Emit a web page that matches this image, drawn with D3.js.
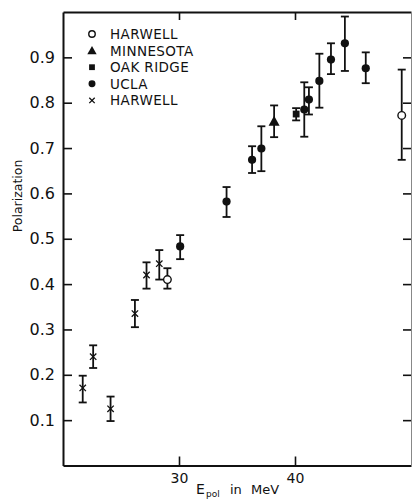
<!DOCTYPE html>
<html>
<head>
<meta charset="utf-8">
<script src="https://cdn.jsdelivr.net/npm/d3@7"></script>
<style>
  body { margin: 0; background: #fff; }
  text { font-family: "DejaVu Sans", sans-serif; fill: #111; }
</style>
</head>
<body>
<div id="chart"></div>
<script>
// [energy MeV, polarization, lower end of bar, upper end of bar]
var harwellCircle = [[29.0, 0.410, 0.390, 0.435], [49.2, 0.772, 0.674, 0.873]];
var minnesota = [[38.2, 0.759, 0.724, 0.794]];
var oakRidge = [[40.1, 0.775, 0.761, 0.788]];
var ucla = [
  [30.1, 0.483, 0.455, 0.508],
  [34.1, 0.582, 0.548, 0.614],
  [36.3, 0.674, 0.645, 0.704],
  [37.1, 0.699, 0.649, 0.748],
  [40.8, 0.785, 0.725, 0.845],
  [41.2, 0.807, 0.774, 0.834],
  [42.1, 0.848, 0.789, 0.908],
  [43.1, 0.895, 0.863, 0.931],
  [44.3, 0.931, 0.870, 0.990],
  [46.1, 0.876, 0.843, 0.911]
];
var harwellCross = [
  [21.7, 0.171, 0.139, 0.198],
  [22.6, 0.240, 0.215, 0.265],
  [24.1, 0.125, 0.098, 0.152],
  [26.2, 0.335, 0.305, 0.365],
  [27.2, 0.420, 0.390, 0.448],
  [28.3, 0.445, 0.410, 0.475]
];

var legendLabels = ["HARWELL", "MINNESOTA", "OAK RIDGE", "UCLA", "HARWELL"];
var legendSymbols = ["open", "triangle", "square", "dot", "cross"];
var xTicks = [30, 40];
var yTicks = [0.1, 0.2, 0.3, 0.4, 0.5, 0.6, 0.7, 0.8, 0.9];

createChart();

function createChart() {
  var width = 412;
  var height = 499;
  var left = 63, right = 411, top = 12, bottom = 465.5;

  var svg = d3.select("#chart").append("svg")
    .attr("width", width)
    .attr("height", height);

  var x = d3.scaleLinear().domain([20, 50]).range([left, right]);
  var y = d3.scaleLinear().domain([0, 1]).range([bottom, top]);

  // axes, ticks pointing inward
  var gl = svg.append("g")
    .attr("transform", "translate(" + left + ",0)")
    .call(d3.axisLeft(y).tickValues(yTicks).tickSize(-9).tickSizeOuter(0)
      .tickPadding(8).tickFormat(d3.format(".1f")));
  gl.selectAll("text").style("font-size", "16px");

  var gb = svg.append("g")
    .attr("transform", "translate(0," + bottom + ")")
    .call(d3.axisBottom(x).tickValues(xTicks).tickSize(-9).tickSizeOuter(0)
      .tickPadding(8));
  gb.selectAll("text").style("font-size", "14px");

  svg.append("g")
    .attr("transform", "translate(0," + top + ")")
    .call(d3.axisTop(x).tickValues(xTicks).tickSize(-8).tickSizeOuter(0).tickFormat(""));

  var gr = svg.append("g")
    .attr("transform", "translate(" + right + ",0)")
    .call(d3.axisRight(y).tickValues(yTicks).tickSize(-8).tickSizeOuter(0).tickFormat(""));
  gr.select(".domain").attr("stroke-width", 1).attr("stroke", "#888");

  svg.selectAll(".domain").filter(function() { return this.parentNode !== gr.node(); })
    .attr("stroke-width", 2).attr("stroke", "#111");
  svg.selectAll(".tick line").attr("stroke-width", 1.6).attr("stroke", "#111");

  // axis titles
  svg.append("text")
    .attr("transform", "translate(22,196) rotate(-90)")
    .attr("text-anchor", "middle")
    .style("font-size", "12.5px")
    .text("Polarization");

  var xt = svg.append("text")
    .attr("y", 494)
    .style("font-size", "13px");
  xt.append("tspan").attr("x", 196).style("font-size", "14px").text("E");
  xt.append("tspan").attr("x", 206).attr("dy", 2.5).style("font-size", "9px").text("pol");
  xt.append("tspan").attr("x", 230).attr("dy", -2.5).text("in");
  xt.append("tspan").attr("x", 251).text("MeV");

  var all = [harwellCircle, minnesota, oakRidge, ucla, harwellCross];
  var kinds = ["open", "triangle", "square", "dot", "cross"];

  // error bars
  all.forEach(function(series) {
    var g = svg.append("g").attr("stroke", "#111").attr("stroke-width", 1.8);
    series.forEach(function(d) {
      var cx = x(d[0]);
      g.append("line").attr("x1", cx).attr("x2", cx).attr("y1", y(d[2])).attr("y2", y(d[3]));
      g.append("line").attr("x1", cx - 4).attr("x2", cx + 4).attr("y1", y(d[2])).attr("y2", y(d[2]));
      g.append("line").attr("x1", cx - 4).attr("x2", cx + 4).attr("y1", y(d[3])).attr("y2", y(d[3]));
    });
  });

  all.forEach(function(series, i) {
    series.forEach(function(d) {
      drawSymbol(svg, kinds[i], x(d[0]), y(d[1]));
    });
  });

  // legend
  legendLabels.forEach(function(label, i) {
    var ly = 34 + i * 16.6;
    drawSymbol(svg, legendSymbols[i], 92, ly, true);
    svg.append("text")
      .attr("x", 110)
      .attr("y", ly + 5)
      .style("font-size", "13.5px")
      .style("letter-spacing", "0.4px")
      .text(label);
  });
}

function drawSymbol(svg, kind, cx, cy, small) {
  var s = small ? 0.85 : 1;
  if (kind === "open") {
    svg.append("circle").attr("cx", cx).attr("cy", cy).attr("r", 3.8 * s)
      .attr("fill", "#fff").attr("stroke", "#111").attr("stroke-width", 1.4);
  } else if (kind === "dot") {
    svg.append("circle").attr("cx", cx).attr("cy", cy).attr("r", 4.1 * s).attr("fill", "#111");
  } else if (kind === "square") {
    var h = 3.4 * s;
    svg.append("rect").attr("x", cx - h).attr("y", cy - h).attr("width", 2 * h).attr("height", 2 * h)
      .attr("fill", "#111");
  } else if (kind === "triangle") {
    var t = 5.5 * s;
    svg.append("path")
      .attr("d", "M" + cx + "," + (cy - t) + "L" + (cx + t) + "," + (cy + t * 0.8) + "L" + (cx - t) + "," + (cy + t * 0.8) + "Z")
      .attr("fill", "#111");
  } else if (kind === "cross") {
    var c = 3.2 * s;
    svg.append("path")
      .attr("d", "M" + (cx - c) + "," + (cy - c) + "L" + (cx + c) + "," + (cy + c) + "M" + (cx + c) + "," + (cy - c) + "L" + (cx - c) + "," + (cy + c))
      .attr("stroke", "#111").attr("stroke-width", 1.3);
  }
}
</script>
</body>
</html>
